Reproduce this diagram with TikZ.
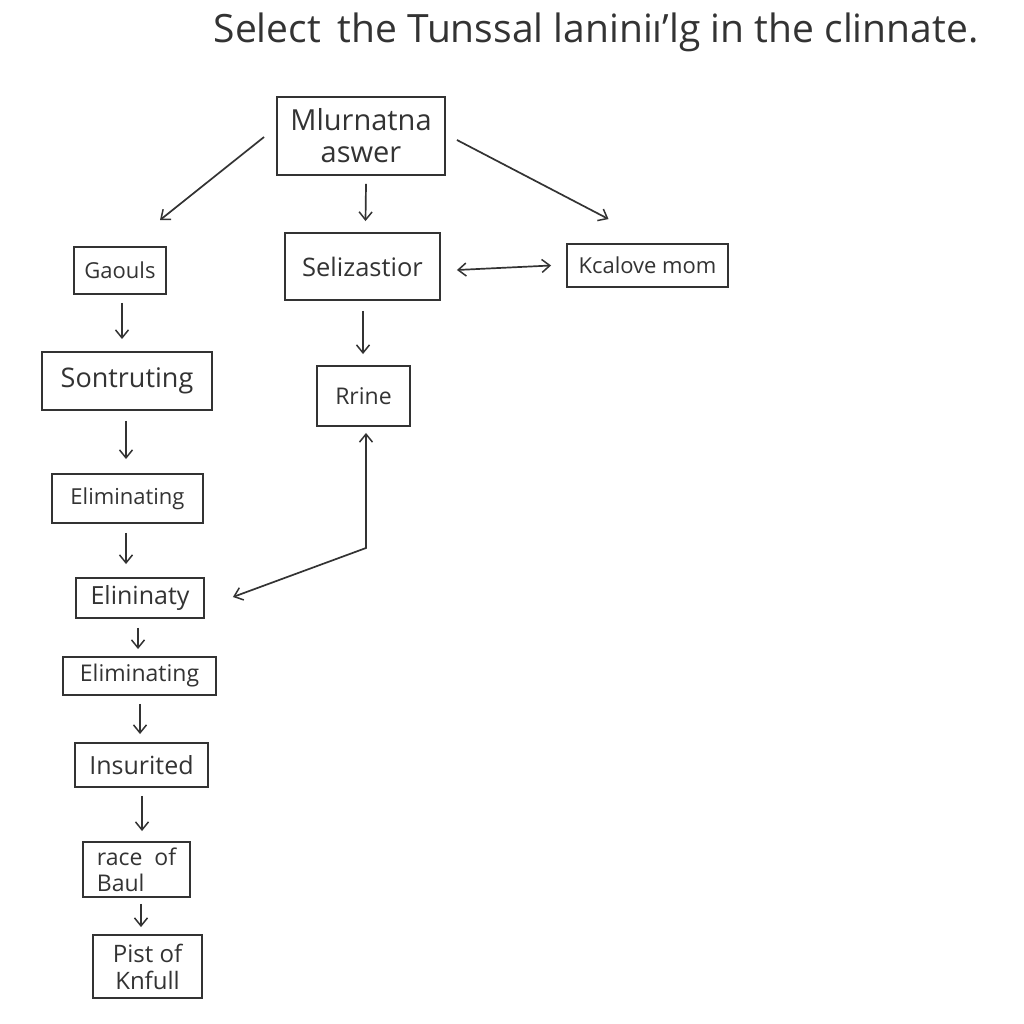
\documentclass[tikz,border=0pt]{standalone}
\usepackage{fontspec}
\setmainfont{Open Sans}
\usetikzlibrary{arrows.meta,calc}
\definecolor{ink}{HTML}{333333}
\newcommand{\fsz}[1]{\fontsize{#1}{#1*1.2}\selectfont}
\begin{document}
\begin{tikzpicture}[x=1pt,y=-1pt,
  box/.style={draw=ink,line width=1.9pt,inner sep=0pt,align=center,text=ink},
  tip/.tip={Straight Barb[length=8pt,width=13pt,line width=1.5pt]},
  arr/.style={draw=ink,line width=1.7pt,-tip},
  darr/.style={draw=ink,line width=1.7pt,tip-tip}]
\useasboundingbox[fill=white] (0,0) rectangle (1024,1024);
\node[text=ink,font=\fontsize{39}{46}\selectfont] (t) at (596,32) {Select\, the Tunssal laniniı'lg in the clinnate.};
\node[box,minimum width=168,minimum height=78,font=\fontsize{29}{32}\selectfont] (m) at (361,136) {Mlurnatna\\aswer};
\node[box,minimum width=92,minimum height=47,font=\fontsize{22}{26}\selectfont] (g) at (120,270.5) {Gaouls};
\node[box,minimum width=155,minimum height=67,font=\fontsize{25.5}{30}\selectfont] (s) at (362.5,266.5) {Selizastior};
\node[box,minimum width=161,minimum height=43,font=\fontsize{22}{26}\selectfont] (k) at (647.5,265.5) {Kcalove mom};
\node[box,minimum width=170,minimum height=58,font=\fontsize{27}{32}\selectfont] (so) at (127,381) {Sontruting};
\node[box,minimum width=93,minimum height=60,font=\fontsize{23}{27}\selectfont] (r) at (363.5,396) {Rrine};
\node[box,minimum width=151,minimum height=49,font=\fontsize{22}{26}\selectfont] (e1) at (127.5,498.5) {Eliminating};
\node[box,minimum width=128,minimum height=40,font=\fontsize{25}{29}\selectfont] (e2) at (140,598) {Elininaty};
\node[box,minimum width=153,minimum height=38,font=\fontsize{23}{27}\selectfont] (e3) at (139.5,676) {Eliminating};
\node[box,minimum width=133,minimum height=44,font=\fontsize{25}{29}\selectfont] (i) at (141.5,765) {Insurited};
\node[box,minimum width=107,minimum height=55,align=left,font=\fontsize{23}{26}\selectfont] (rb) at (136.5,869.5) {race\ \ of\\Baul};
\node[box,minimum width=109,minimum height=63,font=\fontsize{24}{27}\selectfont] (p) at (147.5,966.5) {Pist of\\Knfull};
\draw[arr] ($(m.west)+(-12,1)$) -- ($(g.north)+(40,-26)$);
\draw[arr] ($(m.south)+(5,8)$) -- ($(s.north)+(3,-11)$);
\draw[arr] ($(m.east)+(11,4)$) -- ($(k.north)+(-39,-24)$);
\draw[darr] ($(s.east)+(16,3.5)$) -- ($(k.west)+(-15,0)$);
\draw[arr] ($(g.south)+(2,8)$) -- ($(so.north)+(-5,-12)$);
\draw[arr] ($(s.south)+(0.5,10)$) -- ($(r.north)+(-0.5,-11)$);
\draw[arr] ($(so.south)+(-1,10)$) -- ($(e1.north)+(-1.5,-14)$);
\draw[arr] ($(e1.south)+(-1.5,9)$) -- ($(e2.north)+(-14,-13)$);
\draw[arr] ($(e2.south)+(-2,9)$) -- ($(e3.north)+(-1.5,-7)$);
\draw[arr] ($(e3.south)+(0.5,8)$) -- ($(i.north)+(-1.5,-8)$);
\draw[arr] ($(i.south)+(0.5,8)$) -- ($(rb.north)+(5.5,-10)$);
\draw[arr] ($(rb.south)+(4.5,6)$) -- ($(p.north)+(-6.5,-7)$);
\coordinate (c) at (366,548);
\draw[darr] ($(r.south)+(2.5,6)$) -- (c) -- ($(e2.east)+(28,-1)$);
\end{tikzpicture}
\end{document}
